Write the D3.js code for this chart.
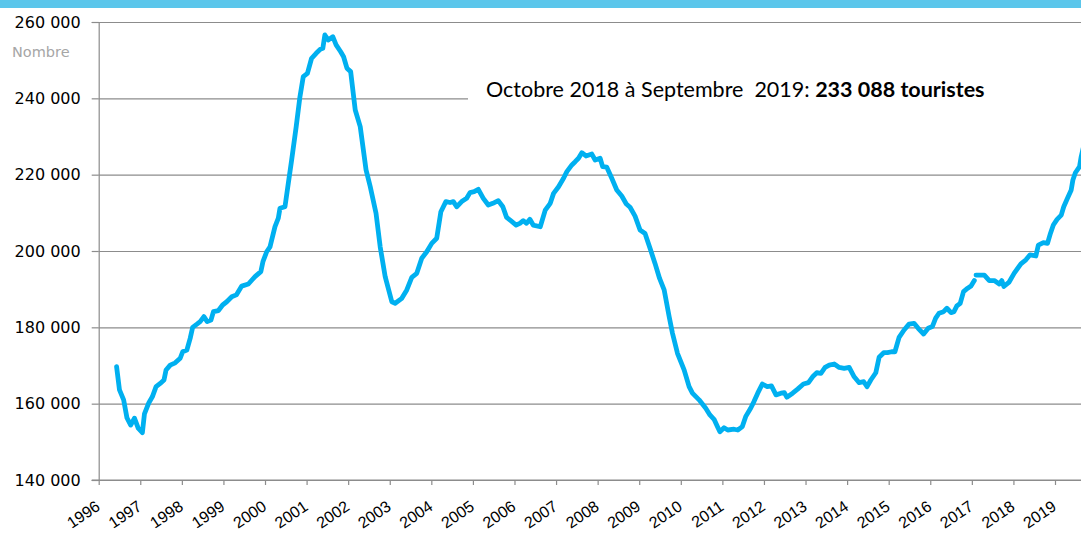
<!DOCTYPE html>
<html>
<head>
<meta charset="utf-8">
<script src="https://cdn.jsdelivr.net/npm/d3@7"></script>
<style>
  html, body { margin: 0; padding: 0; background: #fff; }
  #chart { width: 1081px; height: 534px; overflow: hidden; }
  .axis text { font-family: "DejaVu Sans", sans-serif; fill: #000; }
  .axis--x text { font-family: "Liberation Sans", Arial, sans-serif; }
</style>
</head>
<body>
<div id="chart"></div>
<script>
// ── data ─────────────────────────────────────────────────────────────────────
// time as decimal years, tourists = rolling 12-month total
const timeYears = [
  1996.43, 1996.50, 1996.60, 1996.68, 1996.77, 1996.86, 1996.95, 1997.05, 1997.10, 1997.20,
  1997.29, 1997.38, 1997.48, 1997.57, 1997.62, 1997.72, 1997.84, 1997.96, 1998.02, 1998.12,
  1998.20, 1998.26, 1998.37, 1998.44, 1998.53, 1998.61, 1998.70, 1998.76, 1998.88, 1998.98,
  1999.08, 1999.20, 1999.31, 1999.44, 1999.60, 1999.76, 1999.90, 1999.95, 2000.04, 2000.12,
  2000.24, 2000.32, 2000.36, 2000.48, 2000.56, 2000.64, 2000.75, 2000.84, 2000.92, 2001.02,
  2001.12, 2001.23, 2001.33, 2001.39, 2001.44, 2001.52, 2001.63, 2001.71, 2001.82, 2001.89,
  2001.97, 2002.06, 2002.17, 2002.29, 2002.43, 2002.53, 2002.67, 2002.77, 2002.89, 2003.05,
  2003.13, 2003.29, 2003.41, 2003.53, 2003.65, 2003.77, 2003.89, 2004.01, 2004.13, 2004.23,
  2004.35, 2004.45, 2004.53, 2004.61, 2004.73, 2004.85, 2004.93, 2005.03, 2005.13, 2005.25,
  2005.37, 2005.48, 2005.61, 2005.72, 2005.81, 2005.91, 2006.04, 2006.13, 2006.21, 2006.29,
  2006.37, 2006.45, 2006.62, 2006.74, 2006.86, 2006.94, 2007.06, 2007.18, 2007.26, 2007.38,
  2007.46, 2007.54, 2007.62, 2007.72, 2007.86, 2007.94, 2008.06, 2008.12, 2008.22, 2008.34,
  2008.46, 2008.58, 2008.69, 2008.78, 2008.90, 2009.02, 2009.14, 2009.26, 2009.38, 2009.49,
  2009.60, 2009.72, 2009.80, 2009.92, 2010.08, 2010.20, 2010.28, 2010.44, 2010.60, 2010.70,
  2010.80, 2010.88, 2010.94, 2011.04, 2011.13, 2011.28, 2011.37, 2011.48, 2011.56, 2011.68,
  2011.76, 2011.85, 2011.96, 2012.08, 2012.18, 2012.29, 2012.41, 2012.49, 2012.55, 2012.69,
  2012.81, 2012.95, 2013.07, 2013.17, 2013.27, 2013.37, 2013.47, 2013.57, 2013.69, 2013.81,
  2013.93, 2014.05, 2014.17, 2014.29, 2014.40, 2014.48, 2014.57, 2014.69, 2014.77, 2014.88,
  2014.97, 2015.07, 2015.15, 2015.25, 2015.37, 2015.49, 2015.61, 2015.71, 2015.84, 2015.95,
  2016.05, 2016.13, 2016.21, 2016.32, 2016.40, 2016.50, 2016.57, 2016.64, 2016.72, 2016.80,
  2016.90, 2016.98, 2017.06, 2017.08, 2017.10, 2017.30, 2017.42, 2017.54, 2017.66, 2017.72,
  2017.77, 2017.89, 2018.02, 2018.18, 2018.30, 2018.40, 2018.54, 2018.60, 2018.72, 2018.82,
  2018.89, 2018.96, 2019.05, 2019.15, 2019.21, 2019.30, 2019.39, 2019.43, 2019.49, 2019.59,
  2019.63, 2019.70
];

const tourists = [
  169700, 163600, 161000, 156250, 154400, 156200, 153600, 152400, 157300, 160100,
  161800, 164450, 165300, 166200, 168800, 170100, 170700, 171900, 173600, 174050,
  177100, 180000, 180900, 181500, 182800, 181500, 181900, 184100, 184400, 185850,
  186700, 188000, 188500, 190800, 191350, 193300, 194600, 197200, 199800, 201100,
  206400, 208600, 211200, 211600, 217700, 223800, 232600, 240400, 245700, 246550,
  250500, 251800, 252850, 253100, 256600, 255300, 256150, 254000, 252200, 250900,
  247900, 247000, 236950, 232600, 221250, 216900, 209900, 201100, 193300, 186700,
  186300, 187600, 189800, 193100, 194150, 198100, 199800, 202000, 203350, 210300,
  212950, 212700, 212950, 211600, 212950, 213800, 215300, 215550, 216150, 213800,
  212050, 212500, 213200, 211600, 208800, 207950, 206800, 207250, 207950, 207250,
  208300, 206800, 206350, 210700, 212500, 215100, 216850, 219050, 220800, 222550,
  223400, 224300, 225750, 224900, 225400, 223850, 224300, 222100, 221950, 219050,
  216000, 214400, 212300, 211450, 209150, 205500, 204600, 200700, 196750, 192800,
  189800, 182800, 178450, 173200, 168850, 164450, 162750, 161000, 158800, 157050,
  155900, 154000, 152650, 153700, 153100, 153300, 153100, 154000, 156600, 158800,
  160550, 162750, 165150, 164450, 164650, 162300, 162750, 162900, 161700, 162750,
  163800, 165150, 165500, 167050, 168100, 167950, 169500, 170100, 170400, 169500,
  169250, 169500, 167050, 165500, 165750, 164450, 166200, 168100, 172150, 173350,
  173350, 173600, 173600, 177350, 179300, 180850, 181050, 179750, 178250, 179750,
  180200, 182400, 183700, 184100, 185000, 183850, 184100, 185600, 186300, 189350,
  190250, 190850, 192250, null,   193700, 193700, 192250, 192250, 191350, 192250,
  190700, 191750, 194200, 196650, 197700, 199000, 198700, 201550, 202200, 202000,
  204600, 206800, 208300, 209400, 211600, 213800, 216000, 218600, 220500, 222100,
  224700, 228000
];

const yTicks = [140000, 160000, 180000, 200000, 220000, 240000, 260000];
const yearTicks = d3.range(1996, 2020);

const yLabel = 'Nombre';
const noteText = 'Octobre 2018 à Septembre  2019: ';
const noteBold = '233 088 touristes';

// ── layout ──────────────────────────────────────────────────────────────────
const W = 1081, H = 534;
const plotLeft = 98.7, plotRight = 1081, plotTop = 22, plotBottom = 480;

const frFormat = d3.formatLocale({ decimal: ',', thousands: '\u00a0', grouping: [3], currency: ['', ''] }).format(',');

const x = d3.scaleLinear().domain([1996, 2019]).range([plotLeft, 1055]);
const y = d3.scaleLinear().domain([140000, 260000]).range([plotBottom, plotTop]);

const svg = d3.select('#chart')
  .append('svg')
    .attr('width', W)
    .attr('height', H);

// top banner
svg.append('rect')
  .attr('x', 0).attr('y', 0)
  .attr('width', W).attr('height', 8)
  .attr('fill', '#5bc6eb');

// ── gridlines ────────────────────────────────────────────────────────────────
svg.append('g')
  .attr('class', 'grid')
  .attr('transform', `translate(${plotLeft},0)`)
  .call(d3.axisLeft(y).tickValues(yTicks).tickSize(-(plotRight - plotLeft)).tickFormat(''))
  .call(g => g.select('.domain').remove())
  .call(g => g.selectAll('.tick line').attr('stroke', '#8c8c8c').attr('stroke-width', 1.2));

// white box of the annotation hides the grid behind it
svg.append('rect')
  .attr('x', 468).attr('y', 78)
  .attr('width', plotRight - 468).attr('height', 36)
  .attr('fill', '#fff');

// ── Y axis ──────────────────────────────────────────────────────────────────
svg.append('g')
  .attr('class', 'axis axis--y')
  .attr('transform', `translate(${plotLeft},0)`)
  .call(d3.axisLeft(y).tickValues(yTicks).tickSize(7).tickPadding(11).tickFormat(frFormat))
  .call(g => g.select('.domain').attr('stroke', '#8c8c8c').attr('stroke-width', 1.2))
  .call(g => g.selectAll('.tick line').attr('stroke', '#8c8c8c').attr('stroke-width', 1.2))
  .call(g => g.selectAll('.tick text').attr('font-size', 16));

svg.append('text')
  .attr('x', 12).attr('y', 57)
  .attr('font-family', '"DejaVu Sans", sans-serif')
  .attr('font-size', 14.5)
  .attr('fill', '#a6a6a6')
  .text(yLabel);

// ── X axis ──────────────────────────────────────────────────────────────────
svg.append('g')
  .attr('class', 'axis axis--x')
  .attr('transform', `translate(0,${plotBottom})`)
  .call(d3.axisBottom(x).tickValues(yearTicks).tickSize(5).tickFormat(d3.format('d')))
  .call(g => g.select('.domain').remove())
  .call(g => g.selectAll('.tick line').attr('stroke', '#8c8c8c').attr('stroke-width', 1.2))
  .call(g => g.selectAll('.tick text')
    .attr('font-size', 16)
    .attr('text-anchor', 'end')
    .attr('dy', 0)
    .attr('y', 0)
    .attr('transform', 'translate(2,29) rotate(-34)'));

svg.append('line')
  .attr('x1', plotLeft - 7).attr('x2', plotRight)
  .attr('y1', plotBottom).attr('y2', plotBottom)
  .attr('stroke', '#8c8c8c').attr('stroke-width', 1.2);

// ── series line ─────────────────────────────────────────────────────────────
const points = timeYears.map((t, i) => ({ t, v: tourists[i] }));

const line = d3.line()
  .defined(d => d.v != null)
  .x(d => x(d.t))
  .y(d => y(d.v));

svg.append('path')
  .datum(points)
  .attr('fill', 'none')
  .attr('stroke', '#00b0f0')
  .attr('stroke-width', 4.8)
  .attr('stroke-linejoin', 'round')
  .attr('stroke-linecap', 'round')
  .attr('d', line);

// ── annotation ──────────────────────────────────────────────────────────────
const note = svg.append('text')
  .attr('x', 486).attr('y', 97)
  .attr('font-family', 'Lato, "Open Sans", sans-serif')
  .attr('font-size', 21.5)
  .attr('fill', '#000')
  .style('white-space', 'pre');
note.append('tspan').text(noteText);
note.append('tspan').attr('font-weight', 'bold').text(noteBold);
</script>
</body>
</html>
